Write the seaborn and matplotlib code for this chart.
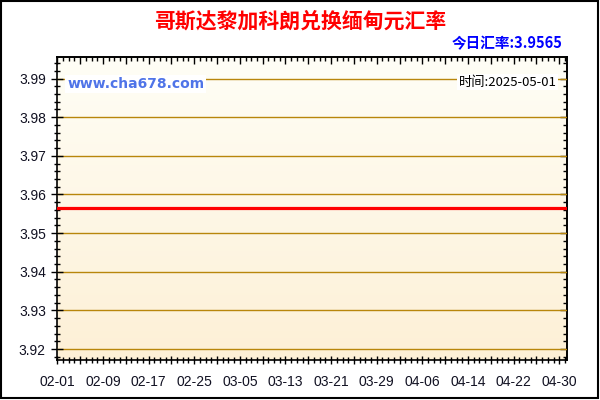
"""Costa Rican colon to Myanmar kyat exchange-rate chart."""

from datetime import date

import matplotlib

matplotlib.use("Agg")
import matplotlib.dates as mdates
import matplotlib.pyplot as plt
import numpy as np
import pandas as pd
import seaborn as sns
from matplotlib import ticker
from matplotlib.patches import Rectangle

# ---- data -------------------------------------------------------------
start_day = date(2025, 2, 1)
end_day = date(2025, 5, 1)
rates = [
    3.9565, 3.9565, 3.9565, 3.9565, 3.9565, 3.9565, 3.9565, 3.9565, 3.9565, 3.9565,
    3.9565, 3.9565, 3.9565, 3.9565, 3.9565, 3.9565, 3.9565, 3.9565, 3.9565, 3.9565,
    3.9565, 3.9565, 3.9565, 3.9565, 3.9565, 3.9565, 3.9565, 3.9565, 3.9565, 3.9565,
    3.9565, 3.9565, 3.9565, 3.9565, 3.9565, 3.9565, 3.9565, 3.9565, 3.9565, 3.9565,
    3.9565, 3.9565, 3.9565, 3.9565, 3.9565, 3.9565, 3.9565, 3.9565, 3.9565, 3.9565,
    3.9565, 3.9565, 3.9565, 3.9565, 3.9565, 3.9565, 3.9565, 3.9565, 3.9565, 3.9565,
    3.9565, 3.9565, 3.9565, 3.9565, 3.9565, 3.9565, 3.9565, 3.9565, 3.9565, 3.9565,
    3.9565, 3.9565, 3.9565, 3.9565, 3.9565, 3.9565, 3.9565, 3.9565, 3.9565, 3.9565,
    3.9565, 3.9565, 3.9565, 3.9565, 3.9565, 3.9565, 3.9565, 3.9565, 3.9565, 3.9565,
]
title_text = "哥斯达黎加科朗兑换缅甸元汇率"
today_text = "今日汇率:3.9565"
time_text = "时间:2025-05-01"
site_text = "www.cha678.com"

df = pd.DataFrame({"date": pd.date_range(start_day, end_day, freq="D"), "rate": rates})
df["x"] = mdates.date2num(df["date"])

plt.rcParams["font.family"] = ["Liberation Sans", "DejaVu Sans"]
CJK = ["Noto Sans CJK SC", "DejaVu Sans"]

fig = plt.figure(figsize=(6, 4), dpi=100)
ax = fig.add_axes([0.095, 0.10, 0.85, 0.7575])

# cream gradient background
grad = np.linspace(0, 1, 256).reshape(-1, 1)
cmap = matplotlib.colors.LinearSegmentedColormap.from_list("bg", ["#fffef6", "#fdf0d6"])
ax.imshow(grad, cmap=cmap, aspect="auto", extent=[0, 1, 0, 1],
          transform=ax.transAxes, zorder=0)

sns.lineplot(data=df, x="x", y="rate", color="#ff0000", linewidth=2.3, ax=ax, zorder=3)

x0 = mdates.date2num(pd.Timestamp(start_day))
x1 = mdates.date2num(pd.Timestamp(end_day))
ax.set_xlim(x0 - 0.05, x1 + 0.35)
ax.set_ylim(3.91716, 3.99558)


def set_locators(xaxis, yaxis):
    if xaxis is not None:
        xaxis.set_major_locator(ticker.MultipleLocator(4))
        xaxis.set_minor_locator(ticker.MultipleLocator(1))
    if yaxis is not None:
        yaxis.set_major_locator(ticker.MultipleLocator(0.01))
        yaxis.set_minor_locator(ticker.MultipleLocator(0.002))


set_locators(ax.xaxis, ax.yaxis)
ax.xaxis.set_major_formatter(ticker.FuncFormatter(
    lambda v, pos: mdates.num2date(v).strftime("%m-%d") if int(round(v - x0)) % 8 == 0 else ""))
ax.yaxis.set_major_formatter(ticker.FormatStrFormatter("%.2f"))

ax.tick_params(axis="both", which="both", direction="inout", colors="black",
               labelcolor="#111122", labelsize=10, top=False, right=False)
ax.tick_params(axis="y", which="major", length=8, width=1, pad=4)
ax.tick_params(axis="y", which="minor", length=5, width=1)
ax.tick_params(axis="x", which="major", length=6, width=1, pad=8)
ax.tick_params(axis="x", which="minor", length=4, width=1)

# inward ticks on top and right
top = ax.secondary_xaxis("top")
right = ax.secondary_yaxis("right")
set_locators(top.xaxis, None)
set_locators(None, right.yaxis)
for sec in (top, right):
    sec.tick_params(which="both", direction="in", labelleft=False, labelright=False,
                    labeltop=False, labelbottom=False, width=1, colors="black")
    sec.tick_params(which="major", length=5)
    sec.tick_params(which="minor", length=3)
    for sp in sec.spines.values():
        sp.set_linewidth(1.2)

ax.grid(axis="y", which="major", color="#b8860b", linewidth=1)
ax.grid(axis="x", visible=False)
ax.set_axisbelow(False)
for sp in ax.spines.values():
    sp.set_color("black")
    sp.set_linewidth(1.2)
ax.set_xlabel("")
ax.set_ylabel("")

fig.text(0.5, 0.948, title_text, ha="center", va="center", fontsize=15,
         fontweight="bold", color="#ff0000", family=CJK)
fig.text(0.938, 0.893, today_text, ha="right", va="center", fontsize=10.5,
         fontweight="bold", color="#0000ff", family=CJK)
ax.text(0.02, 0.911, site_text, transform=ax.transAxes, ha="left", va="center",
        fontsize=10, fontweight="bold", color="#4f74e8", family=["DejaVu Sans"],
        bbox=dict(facecolor="white", edgecolor="none", pad=1.5), zorder=4)
ax.text(0.98, 0.917, time_text, transform=ax.transAxes, ha="right", va="center",
        fontsize=9.5, color="black", family=CJK,
        bbox=dict(facecolor="white", edgecolor="none", pad=1.0), zorder=4)

# outer frame
fig.patches.append(Rectangle((0.002, 0.004), 0.994, 0.993, transform=fig.transFigure,
                             fill=False, edgecolor="black", linewidth=1.5))

fig.savefig("out.png", dpi=100)
plt.close(fig)
